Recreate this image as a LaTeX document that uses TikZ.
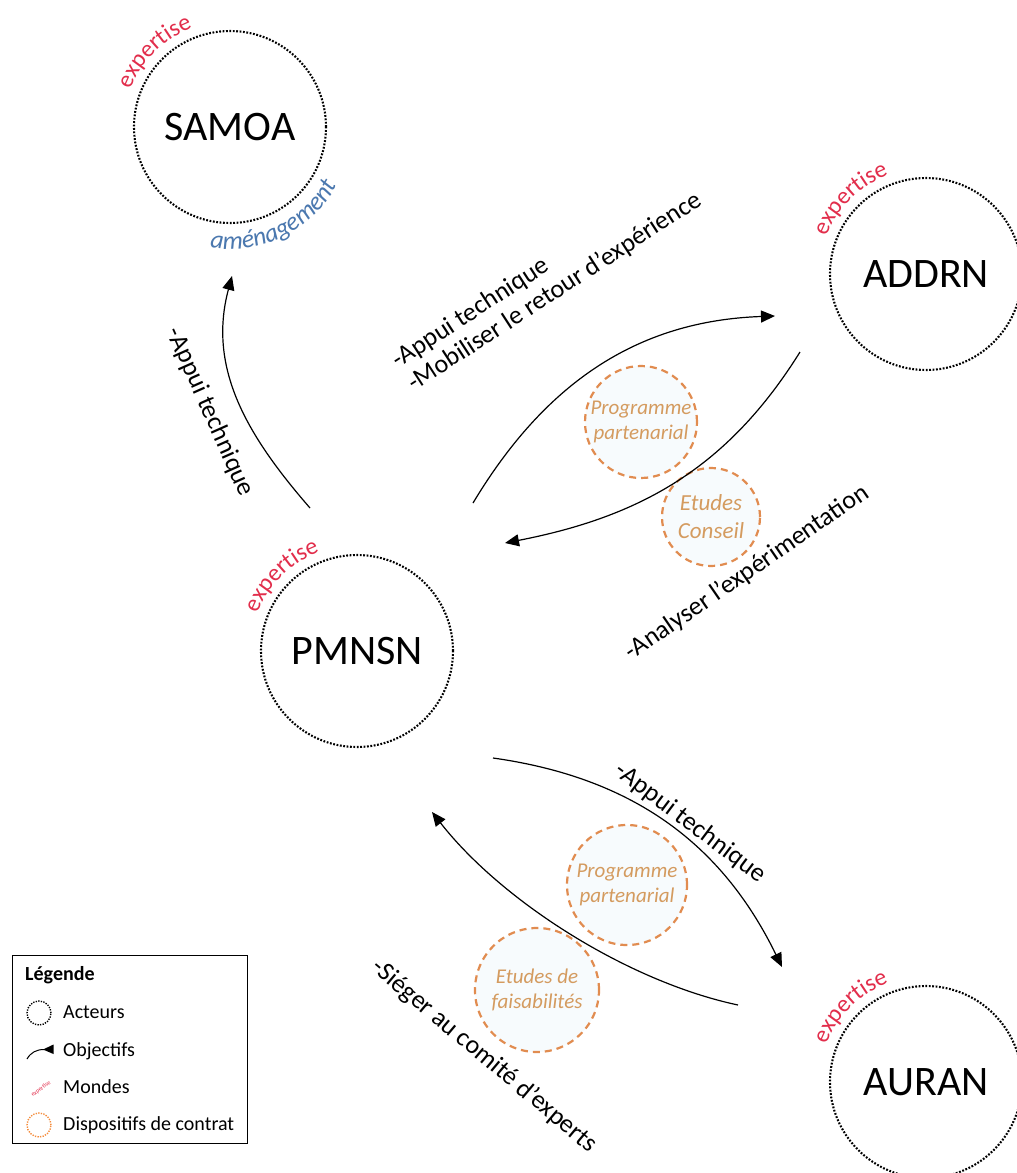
\documentclass[tikz,border=0pt]{standalone}
\usepackage{fontspec}
\setmainfont{Carlito}
\usetikzlibrary{arrows.meta,decorations.text,calc}
\definecolor{expred}{RGB}{226,45,75}
\definecolor{amblue}{RGB}{75,120,175}
\definecolor{orng}{RGB}{225,140,80}
\definecolor{orngtext}{RGB}{212,155,95}
\definecolor{orngfill}{RGB}{247,251,253}
\definecolor{legorng}{RGB}{245,140,60}
\newcommand\expstyle{\fontsize{24}{24}\selectfont\color{expred}}
\newcommand\amstyle{\fontsize{25.5}{25.5}\selectfont\itshape\color{amblue}}
\newcommand\expertarc[1]{\path[decorate,decoration={text along path,text align=center,text={|\expstyle|expertise}}] ($(#1)+(170:106)$) arc[start angle=170,end angle=100,radius=106];}
\begin{document}
\begin{tikzpicture}[x=1pt,y=1pt,
  actor/.style={circle,draw=black,line width=2.1pt,dash pattern=on 1.8pt off 1.6pt,minimum size=192pt,inner sep=0pt,font=\fontsize{42}{42}\selectfont},
  dispo/.style={circle,draw=orng,fill=orngfill,line width=2.2pt,dash pattern=on 7pt off 5pt,inner sep=0pt,align=center,text=orngtext,font=\fontsize{21}{25}\selectfont\itshape},
  obj/.style={line width=1.2pt,-{Triangle[length=14pt,width=12pt]}},
  lab/.style={font=\fontsize{26}{30}\selectfont,inner sep=0pt},
  legtext/.style={anchor=base west,font=\fontsize{20}{20}\selectfont,inner sep=0pt}]
\useasboundingbox (0,0) rectangle (1017,-1173);
\fill[white] (0,0) rectangle (1017,-1173);

% actors
\node[actor] (sa) at (230,-127) {SAMOA};
\node[actor] (ad) at (926,-274) {ADDRN};
\node[actor] (pm) at (357,-651) {PMNSN};
\node[actor] (au) at (926,-1082) {AURAN};

% worlds
\expertarc{sa}
\expertarc{ad}
\expertarc{pm}
\expertarc{au}
\path[decorate,decoration={text along path,text align=center,text={|\amstyle|aménagement}}] ($(sa)+(240:122)$) arc[start angle=240,end angle=352,radius=122];

% contract devices
\node[dispo,minimum size=112pt] (pp1) at (641,-422) {Programme\\partenarial};
\node[dispo,minimum size=98pt,font=\fontsize{23}{28}\selectfont\itshape] (ec) at (711,-517) {Etudes\\Conseil};
\node[dispo,minimum size=120pt] (pp2) at (627,-885) {Programme\\partenarial};
\node[dispo,minimum size=124pt] (ef) at (537,-990) {Etudes de\\faisabilités};

% connector ends
\coordinate (a1s) at ($(pm)+(-47,143)$);
\coordinate (a1e) at ($(sa)+(2,-149)$);
\coordinate (a2s) at ($(pm)+(116,148)$);
\coordinate (a2e) at ($(ad)+(-151,-42)$);
\coordinate (a3s) at ($(ad)+(-126,-78)$);
\coordinate (a3e) at ($(pm)+(148,108)$);
\coordinate (a4s) at ($(pm)+(136,-107)$);
\coordinate (a4e) at ($(au)+(-144,115)$);
\coordinate (a5s) at ($(au)+(-188,77)$);
\coordinate (a5e) at ($(pm)+(75,-161)$);

\draw[obj] (a1s) to[out=131,in=-105] (a1e);
\draw[obj] (a2s) to[out=59,in=182] (a2e);
\draw[obj] (a3s) to[out=238,in=11] (a3e);
\draw[obj] (a4s) to[out=-8,in=116] (a4e);
\draw[obj] (a5s) to[out=168,in=-52,looseness=0.8] (a5e);

% labels
\node[lab,rotate=-66] (l1) at (210,-412) {-Appui technique};
\node[lab,rotate=33,anchor=base west] (l2a) at (398,-369) {-Appui technique};
\node[lab,rotate=33,anchor=base west] (l2b) at (414,-392) {-Mobiliser le retour d’expérience};
\node[lab,rotate=34.5,anchor=base west] (l3) at (631,-661) {-Analyser l’expérimentation};
\node[lab,rotate=-37] (l4) at (690,-823) {-Appui technique};
\node[lab,rotate=-40] (l5) at (484,-1056) {-Siéger au comité d’experts};

% legend
\draw[line width=0.8pt] (12,-955) rectangle (247,-1143);
\node[legtext,font=\fontsize{20}{20}\selectfont\bfseries] (lg) at (25,-980) {Légende};
\node[circle,draw=black,line width=1.4pt,dash pattern=on 1.3pt off 1.3pt,minimum size=24pt,inner sep=0pt] (i1) at (39,-1013) {};
\node[legtext] (t1) at (63,-1018) {Acteurs};
\draw[line width=1pt] (27,-1059) to[out=60,in=180] (44,-1049.5);
\fill (43,-1049.5) -- (53.5,-1044.5) -- (53.5,-1054) -- cycle;
\node[legtext] (t2) at (63,-1056) {Objectifs};
\node[rotate=36,text=expred,font=\fontsize{6}{6}\selectfont,inner sep=0pt] (i3) at (41,-1089) {expertise};
\node[legtext] (t3) at (63,-1093) {Mondes};
\node[circle,draw=legorng,line width=1.4pt,dash pattern=on 1.3pt off 1.3pt,minimum size=24pt,inner sep=0pt] (i4) at (39,-1125) {};
\node[legtext] (t4) at (63,-1130) {Dispositifs de contrat};
\end{tikzpicture}
\end{document}
